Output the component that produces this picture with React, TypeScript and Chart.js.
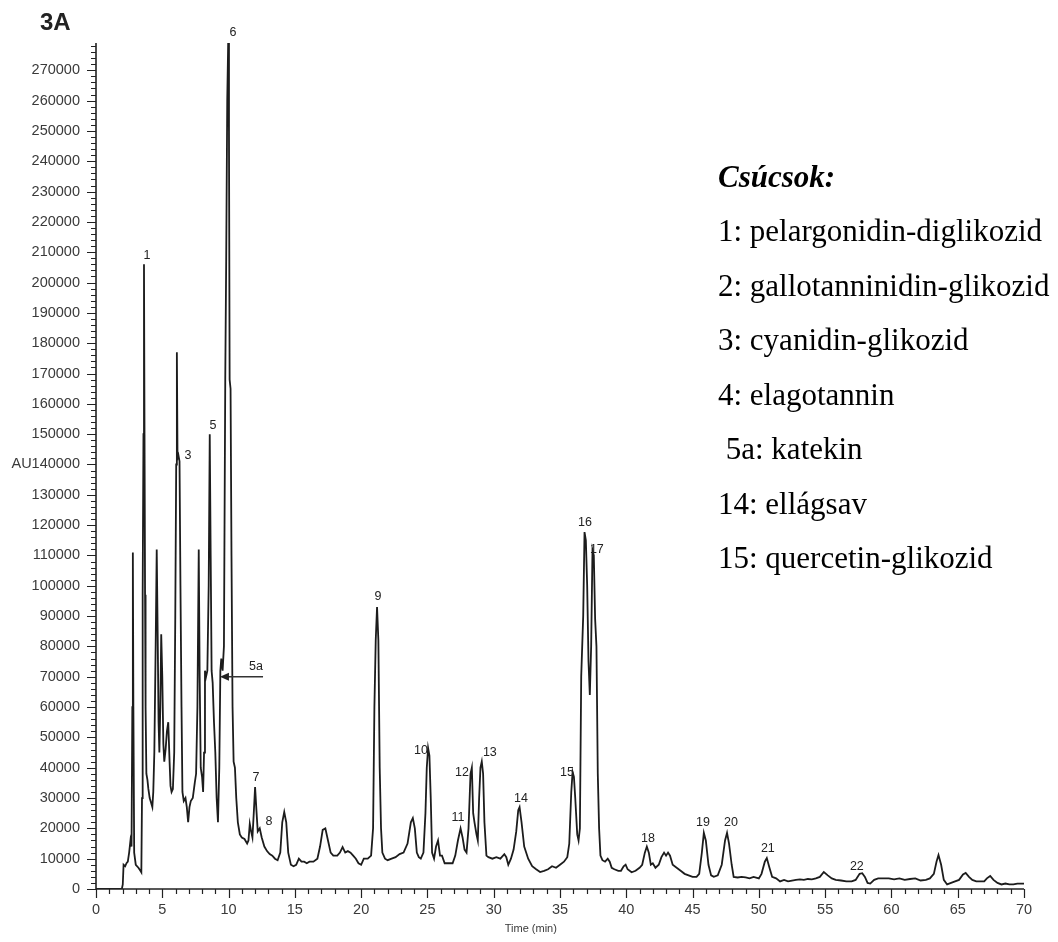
import { useEffect, useRef } from "react";
import { Chart, registerables } from "chart.js";

Chart.register(...registerables);

// Retention time (min)
const timeMin = [
  0, 1.95, 2.02, 2.08, 2.2, 2.3, 2.4, 2.5, 2.6, 2.68, 2.74, 2.78, 2.82, 2.88, 3.0, 3.2, 3.35, 3.42, 3.47, 3.5,
  3.54, 3.58, 3.62, 3.66, 3.7, 3.74, 3.8, 3.88, 3.95, 4.05, 4.15, 4.25, 4.32, 4.4, 4.5, 4.58, 4.65, 4.72, 4.78, 4.85,
  4.92, 5.0, 5.08, 5.15, 5.25, 5.35, 5.45, 5.55, 5.62, 5.7, 5.8, 5.9, 5.98, 6.05, 6.1, 6.15, 6.22, 6.3, 6.37, 6.45,
  6.52, 6.62, 6.75, 6.85, 6.95, 7.05, 7.15, 7.3, 7.45, 7.55, 7.65, 7.75, 7.82, 7.9, 8.0, 8.08, 8.15, 8.22, 8.3, 8.4,
  8.5, 8.58, 8.65, 8.72, 8.8, 8.9, 9.0, 9.1, 9.2, 9.3, 9.38, 9.45, 9.55, 9.65, 9.75, 9.82, 9.9, 9.97, 10.03, 10.08,
  10.15, 10.22, 10.3, 10.38, 10.48, 10.58, 10.7, 10.85, 11.0, 11.2, 11.4, 11.5, 11.6, 11.7, 11.8, 11.9, 12.0, 12.1, 12.2, 12.35,
  12.5, 12.7, 12.9, 13.1, 13.3, 13.5, 13.7, 13.9, 14.05, 14.2, 14.35, 14.5, 14.7, 14.9, 15.1, 15.3, 15.5, 15.7, 15.9, 16.1,
  16.4, 16.7, 16.9, 17.1, 17.3, 17.5, 17.7, 17.9, 18.2, 18.4, 18.6, 18.8, 19.0, 19.2, 19.4, 19.6, 19.8, 20.0, 20.2, 20.5,
  20.75, 20.9, 21.0, 21.1, 21.2, 21.3, 21.4, 21.5, 21.6, 21.8, 22.0, 22.3, 22.6, 22.9, 23.2, 23.5, 23.75, 23.9, 24.05, 24.2,
  24.35, 24.5, 24.7, 24.85, 24.95, 25.05, 25.15, 25.25, 25.35, 25.5, 25.65, 25.8, 25.95, 26.1, 26.3, 26.6, 26.9, 27.1, 27.3, 27.5,
  27.65, 27.8, 27.95, 28.1, 28.25, 28.35, 28.45, 28.55, 28.7, 28.8, 28.9, 29.0, 29.1, 29.2, 29.3, 29.45, 29.6, 29.9, 30.2, 30.5,
  30.8, 30.95, 31.1, 31.3, 31.5, 31.7, 31.85, 31.95, 32.1, 32.3, 32.6, 32.9, 33.2, 33.5, 33.8, 34.1, 34.4, 34.7, 35.0, 35.3,
  35.55, 35.7, 35.85, 35.95, 36.05, 36.15, 36.3, 36.4, 36.5, 36.6, 36.75, 36.85, 36.95, 37.05, 37.15, 37.25, 37.35, 37.45, 37.55, 37.65,
  37.75, 37.85, 37.95, 38.05, 38.2, 38.4, 38.6, 38.75, 38.9, 39.1, 39.4, 39.6, 39.8, 39.95, 40.1, 40.4, 40.7, 41.0, 41.2, 41.4,
  41.55, 41.7, 41.85, 42.0, 42.2, 42.45, 42.65, 42.85, 43.0, 43.15, 43.3, 43.5, 43.8, 44.1, 44.4, 44.7, 45.0, 45.3, 45.5, 45.7,
  45.85, 46.0, 46.2, 46.4, 46.6, 46.9, 47.2, 47.45, 47.6, 47.75, 47.95, 48.1, 48.4, 48.7, 49.0, 49.3, 49.6, 50.0, 50.2, 50.45,
  50.6, 50.8, 51.0, 51.3, 51.6, 51.9, 52.2, 52.5, 52.8, 53.1, 53.4, 53.7, 54.0, 54.3, 54.6, 54.9, 55.2, 55.5, 55.8, 56.2,
  56.6, 57.0, 57.3, 57.6, 57.8, 58.0, 58.2, 58.4, 58.7, 59.0, 59.4, 59.8, 60.2, 60.6, 61.0, 61.4, 61.8, 62.2, 62.6, 62.9,
  63.2, 63.4, 63.55, 63.75, 63.95, 64.2, 64.5, 64.8, 65.1, 65.4, 65.6, 65.85, 66.1, 66.4, 66.7, 67.0, 67.2, 67.45, 67.7, 68.0,
  68.3, 68.6, 68.9, 69.2, 69.5, 70.0,
];

// Detector signal (AU)
const signalAU = [
  0, 0, 1500, 8000, 7500, 8500, 9000, 12000, 16000, 14000, 60000, 111000, 60000, 12000, 8000, 7000, 6000, 5500, 30000, 95000,
  97000, 150000, 206000, 150000, 97000, 60000, 38000, 36000, 33000, 30000, 28500, 27000, 32000, 45000, 80000, 112000, 85000, 55000, 45000, 60000,
  84000, 70000, 48000, 42000, 46000, 52000, 55000, 42000, 34000, 32000, 33000, 45000, 90000, 140000, 177000, 142000, 143000, 141000, 100000, 60000,
  32000, 29000, 30000, 27000, 22000, 27000, 29000, 30000, 35000, 38000, 60000, 112000, 70000, 40000, 37000, 32000, 45000, 72000, 70000, 72000,
  100000, 150000, 110000, 72000, 68000, 55000, 45000, 30000, 22000, 40000, 72000, 76000, 72000, 80000, 168000, 207000, 260000, 279000, 250000, 168000,
  165000, 110000, 60000, 42000, 40000, 30000, 22000, 18000, 17000, 16500, 15000, 16000, 21500, 19000, 17000, 25000, 33600, 26000, 19000, 20000,
  17000, 14000, 12500, 11500, 11000, 10000, 9500, 12000, 22000, 25400, 22000, 12000, 8000, 7500, 8000, 10000, 9000, 9000, 8500, 9000,
  9000, 10000, 14000, 19500, 20000, 16000, 12000, 11000, 11000, 12000, 13800, 12000, 12500, 12000, 11000, 10000, 8500, 8000, 10000, 10000,
  11000, 20000, 60000, 82000, 93000, 82000, 40000, 20000, 12000, 10000, 9500, 10000, 10500, 11500, 12000, 15000, 22000, 23400, 20000, 12000,
  10500, 10000, 12000, 25000, 40000, 46500, 44000, 30000, 12000, 10000, 14000, 16000, 11000, 11000, 8500, 8500, 8500, 11000, 16000, 20000,
  17000, 13000, 12000, 20000, 38000, 40000, 25000, 22000, 18000, 16000, 30000, 40000, 42000, 38000, 22000, 11000, 10500, 10000, 10500, 10000,
  11500, 10500, 8000, 10000, 13000, 19000, 26000, 27000, 22000, 14000, 10000, 7500, 6500, 5600, 6000, 6500, 7500, 7000, 8000, 9000,
  10500, 15000, 32000, 38600, 37000, 30000, 18000, 16000, 20000, 70000, 90000, 117700, 115000, 100000, 75000, 64000, 80000, 111800, 110000, 89000,
  80000, 38000, 20000, 11000, 9500, 9000, 10000, 9000, 7000, 6500, 6000, 6000, 7500, 8000, 6500, 5500, 6000, 7000, 8000, 12000,
  14000, 12000, 8000, 8500, 7000, 8000, 10500, 12000, 11000, 12000, 11000, 8000, 7000, 6000, 5000, 4500, 4000, 4000, 5000, 12000,
  18500, 16000, 8000, 4500, 4000, 4500, 8000, 16000, 18500, 15000, 8000, 4000, 3800, 4000, 3800, 3500, 4000, 3500, 5000, 9000,
  10200, 7000, 4000, 3500, 2500, 3000, 2500, 2800, 3000, 3200, 3000, 3300, 3200, 3500, 4000, 5600, 4500, 3500, 3000, 2800,
  2500, 2500, 3000, 5000, 5200, 4000, 2000, 1800, 3000, 3500, 3500, 3500, 3200, 3500, 3000, 3300, 3500, 2800, 3000, 3500,
  5000, 9000, 11200, 8000, 3000, 1500, 2000, 2500, 3000, 4800, 5300, 4000, 3000, 2500, 2500, 2500, 3500, 4300, 3000, 2000,
  1500, 1800, 1500, 1500, 1800, 1800,
];

const xTickValues = [0, 5, 10, 15, 20, 25, 30, 35, 40, 45, 50, 55, 60, 65, 70];
const yTickValues = [
  0, 10000, 20000, 30000, 40000, 50000, 60000, 70000, 80000, 90000, 100000, 110000, 120000, 130000,
  140000, 150000, 160000, 170000, 180000, 190000, 200000, 210000, 220000, 230000, 240000, 250000, 260000, 270000,
];

// Peak numbering (placed in data coordinates)
const peakLabels = ["1", "3", "5", "6", "5a", "7", "8", "9", "10", "11", "12", "13", "14", "15", "16", "17", "18", "19", "20", "21", "22"];
const peakLabelTimes = [3.85, 6.94, 8.82, 10.33, 12.07, 12.07, 13.05, 21.27, 24.51, 27.3, 27.6, 29.71, 32.05, 35.52, 36.88, 37.78, 41.63, 45.78, 47.89, 50.68, 57.39];
const peakLabelValues = [209000, 143100, 153000, 282300, 73500, 36900, 22400, 96300, 45800, 23400, 38300, 44900, 29700, 38300, 120700, 111800, 16800, 21800, 21800, 13500, 7300];

// Arrow pointing to peak 5a
const arrowFromTime = 12.6;
const arrowToTime = 9.35;
const arrowValue = 70000;

const panelTitle = "3A";
const yAxisTitle = "AU";
const xAxisTitle = "Time (min)";
const xAxisTitleTime = 32.8;
const legendTitle = "Csúcsok:";
const legendLines = [
  "1: pelargonidin-diglikozid",
  "2: gallotanninidin-glikozid",
  "3: cyanidin-glikozid",
  "4: elagotannin",
  " 5a: katekin",
  "14: ellágsav",
  "15: quercetin-glikozid",
];

const X_MIN = 0;
const X_MAX = 70;
const Y_MIN = 0;
const Y_MAX = 279000;

export default function App() {
  const canvasRef = useRef<HTMLCanvasElement | null>(null);

  useEffect(() => {
    const canvas = canvasRef.current;
    if (!canvas) return;

    const overlay = {
      id: "overlay",
      afterDraw(chart: any) {
        const ctx: CanvasRenderingContext2D = chart.ctx;
        const xs = chart.scales.x;
        const ys = chart.scales.y;
        const { left, right, top, bottom } = chart.chartArea;
        ctx.save();

        // axes
        ctx.strokeStyle = "#222";
        ctx.lineWidth = 1.6;
        ctx.beginPath();
        ctx.moveTo(left, top);
        ctx.lineTo(left, bottom);
        ctx.lineTo(right, bottom);
        ctx.stroke();

        // y ticks
        ctx.lineWidth = 1.2;
        ctx.beginPath();
        for (let v = Y_MIN; v <= Y_MAX; v += 2000) {
          const y = Math.round(ys.getPixelForValue(v)) + 0.5;
          const len = v % 10000 === 0 ? 9 : 5;
          ctx.moveTo(left - len, y);
          ctx.lineTo(left, y);
        }
        // x ticks
        for (let t = X_MIN; t <= X_MAX; t += 1) {
          const x = Math.round(xs.getPixelForValue(t)) + 0.5;
          const len = t % 5 === 0 ? 9 : 5;
          ctx.moveTo(x, bottom);
          ctx.lineTo(x, bottom + len);
        }
        ctx.stroke();

        // tick labels
        ctx.fillStyle = "#3a3a3a";
        ctx.font = "14.5px 'Liberation Sans', Arial, sans-serif";
        ctx.textAlign = "right";
        ctx.textBaseline = "middle";
        let au140 = 0;
        yTickValues.forEach((v) => {
          const y = ys.getPixelForValue(v);
          const label = String(v);
          ctx.fillText(label, left - 16, y);
          if (v === 140000) au140 = left - 16 - ctx.measureText(label).width;
        });
        ctx.fillText(yAxisTitle, au140, ys.getPixelForValue(140000));

        ctx.textAlign = "center";
        xTickValues.forEach((t) => {
          ctx.fillText(String(t), xs.getPixelForValue(t), bottom + 21);
        });

        ctx.font = "11px 'Liberation Sans', Arial, sans-serif";
        ctx.fillText(xAxisTitle, xs.getPixelForValue(xAxisTitleTime), bottom + 40);

        // peak labels
        ctx.fillStyle = "#222";
        ctx.font = "12.5px 'Liberation Sans', Arial, sans-serif";
        peakLabels.forEach((lab, i) => {
          ctx.fillText(lab, xs.getPixelForValue(peakLabelTimes[i]), ys.getPixelForValue(peakLabelValues[i]));
        });

        // arrow to 5a
        const ax1 = xs.getPixelForValue(arrowFromTime);
        const ax2 = xs.getPixelForValue(arrowToTime);
        const ay = ys.getPixelForValue(arrowValue);
        ctx.strokeStyle = "#333";
        ctx.lineWidth = 1.4;
        ctx.beginPath();
        ctx.moveTo(ax1, ay);
        ctx.lineTo(ax2 + 6, ay);
        ctx.stroke();
        ctx.fillStyle = "#222";
        ctx.beginPath();
        ctx.moveTo(ax2, ay);
        ctx.lineTo(ax2 + 9, ay - 4);
        ctx.lineTo(ax2 + 9, ay + 4);
        ctx.closePath();
        ctx.fill();

        // panel title
        ctx.fillStyle = "#222";
        ctx.textAlign = "left";
        ctx.textBaseline = "alphabetic";
        ctx.font = "bold 24px 'Liberation Sans', Arial, sans-serif";
        ctx.fillText(panelTitle, 40, 30);

        // legend
        ctx.fillStyle = "#000";
        ctx.font = "bold italic 31px 'Liberation Serif', 'Times New Roman', serif";
        ctx.fillText(legendTitle, 718, 187);
        ctx.font = "31px 'Liberation Serif', 'Times New Roman', serif";
        legendLines.forEach((line, i) => {
          ctx.fillText(line, 718, 241 + i * 54.5);
        });

        ctx.restore();
      },
    };

    const chart = new Chart(canvas, {
      type: "line",
      data: {
        datasets: [
          {
            data: timeMin.map((t, i) => ({ x: t, y: signalAU[i] })),
            borderColor: "#1c1c1c",
            borderWidth: 1.8,
            pointRadius: 0,
            tension: 0,
            fill: false,
          },
        ],
      },
      options: {
        responsive: false,
        animation: false,
        devicePixelRatio: 1,
        events: [],
        layout: { padding: { left: 96, right: 34, top: 43, bottom: 53 } },
        scales: {
          x: { type: "linear", min: X_MIN, max: X_MAX, display: false },
          y: { type: "linear", min: Y_MIN, max: Y_MAX, display: false },
        },
        plugins: {
          legend: { display: false },
          tooltip: { enabled: false },
        },
      },
      plugins: [overlay],
    });

    return () => chart.destroy();
  }, []);

  return (
    <div style={{ position: "fixed", left: 0, top: 0, width: 1058, height: 942, background: "#fff" }}>
      <canvas ref={canvasRef} width={1058} height={942} style={{ width: 1058, height: 942, display: "block" }} />
    </div>
  );
}
